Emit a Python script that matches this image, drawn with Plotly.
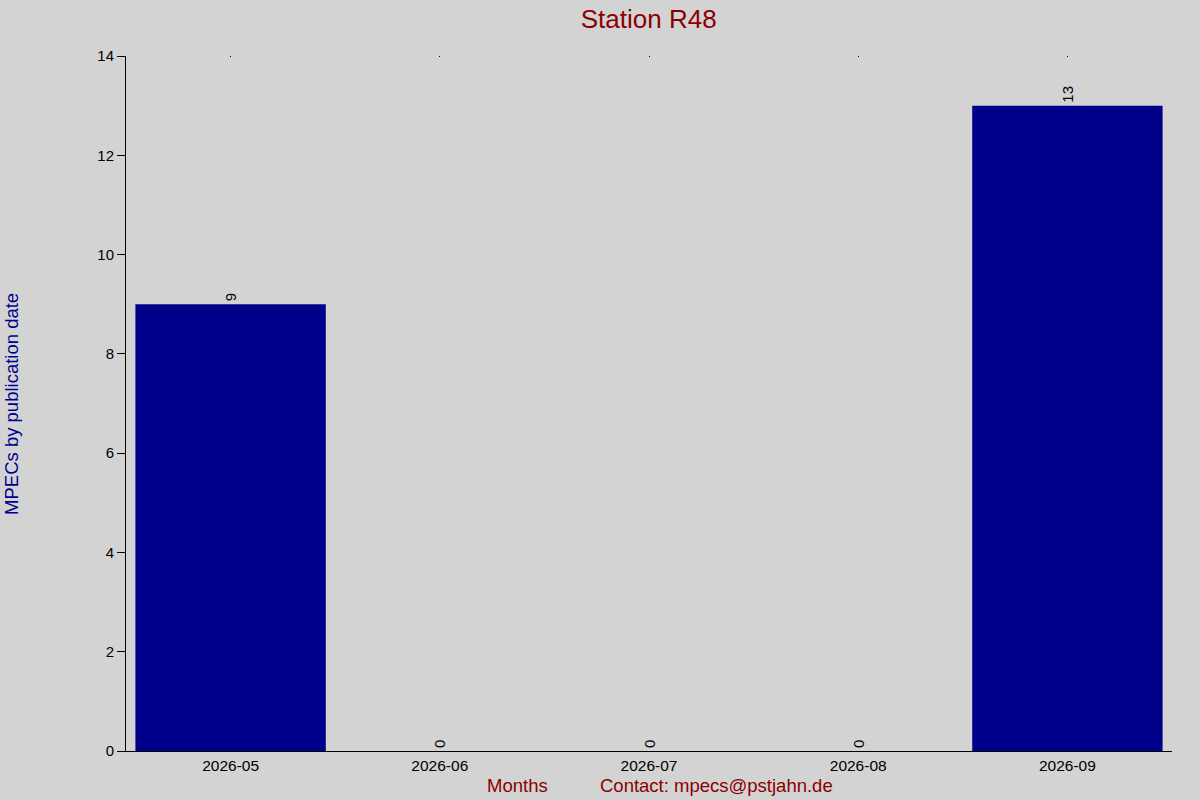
import plotly.graph_objects as go

meses = ['2026-05', '2026-06', '2026-07', '2026-08', '2026-09']
mpecs = [9, 0, 0, 0, 13]

fundo = '#D3D3D3'
vermelho = '#8B0000'
azul = '#00008B'

fig = go.Figure(go.Bar(
    x=meses,
    y=mpecs,
    width=0.91,
    marker_color=azul,
    marker_line_width=0,
    text=[str(v) for v in mpecs],
    textposition='outside',
    textangle=-90,
    cliponaxis=False,
    textfont=dict(color='#000000', size=15, family='Liberation Sans'),
))
# eixo de cima so para os pontinhos dos ticks
fig.add_trace(go.Scatter(x=meses, y=mpecs, xaxis='x2', mode='none', hoverinfo='skip'))

fig.update_layout(
    width=1200, height=800,
    margin=dict(l=126, r=28, t=56, b=49),
    paper_bgcolor=fundo,
    plot_bgcolor=fundo,
    font=dict(family='Liberation Sans', size=15, color='#000000'),
    showlegend=False,
    title=dict(text='Station R48', x=0.5406, xanchor='center', y=0.977, yanchor='middle',
               font=dict(size=26, color=vermelho)),
    xaxis=dict(type='category', range=[-0.5, 4.5],
               showline=True, linecolor='#000000', linewidth=1,
               ticks='', showgrid=False, zeroline=False,
               tickfont=dict(size=15.5)),
    xaxis2=dict(type='category', overlaying='x', side='top', range=[-0.5, 4.5],
                ticks='inside', ticklen=1, tickwidth=1, tickcolor='#000000',
                showticklabels=False, showline=False, showgrid=False, zeroline=False),
    yaxis=dict(range=[0, 14], dtick=2,
               showline=True, linecolor='#000000', linewidth=1,
               ticks='outside', ticklen=8, tickcolor='#000000',
               showgrid=False, zeroline=False,
               tickfont=dict(size=15)),
)

fig.add_annotation(text='MPECs by publication date', xref='paper', yref='paper',
                   x=-0.1095, y=0.5, xanchor='center', yanchor='middle', textangle=-90,
                   showarrow=False, font=dict(size=18.5, color=azul))
fig.add_annotation(text='Months', xref='paper', yref='paper',
                   x=(517 - 126) / 1046, y=-35 / 695, xanchor='center', yanchor='middle',
                   showarrow=False, font=dict(size=18.5, color=vermelho))
fig.add_annotation(text='Contact: mpecs@pstjahn.de', xref='paper', yref='paper',
                   x=(598 - 126) / 1046, y=-35 / 695, xanchor='left', yanchor='middle',
                   showarrow=False, font=dict(size=18.5, color=vermelho))

fig.write_html('out.html', config={'displayModeBar': False},
               post_script="document.body.style.margin='0';")
